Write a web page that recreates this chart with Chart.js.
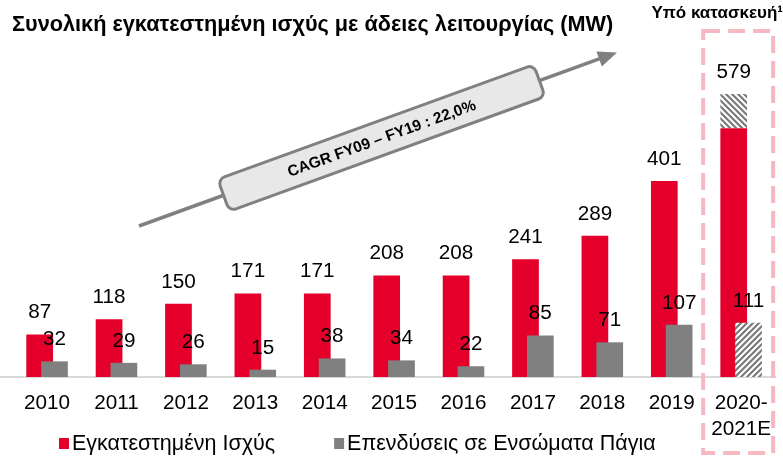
<!DOCTYPE html>
<html><head><meta charset="utf-8">
<script src="https://cdn.jsdelivr.net/npm/chart.js@4/dist/chart.umd.min.js"></script>
<style>
html,body{margin:0;padding:0;background:#fff;overflow:hidden;width:783px;height:456px;}
#wrap{position:absolute;left:-58px;top:0;width:842px;height:456px;}
</style></head><body>
<div id="wrap"><canvas id="c" width="842" height="456"></canvas></div>
<script>
// ---- data ----
const categories = ['2009','2010','2011','2012','2013','2014','2015','2016','2017','2018','2019',['2020-','2021E']];
const installedMW = [55, 87, 118, 150, 171, 171, 208, 208, 241, 289, 401, 509];
const underConstructionMW = [null, null, null, null, null, null, null, null, null, null, null, 70];
const capex = [null, 32, 29, 26, 15, 38, 34, 22, 85, 71, 107, null];
const capexPlanned = [null, null, null, null, null, null, null, null, null, null, null, 111];
const seriesNames = ['Εγκατεστημένη Ισχύς', 'Επενδύσεις σε Ενσώματα Πάγια'];
const titleText = 'Συνολική εγκατεστημένη ισχύς με άδειες λειτουργίας (MW)';
const constructionText = 'Υπό κατασκευή¹';
const cagrText = 'CAGR FY09 – FY19 : 22,0%';

// ---- styling ----
const FONT = '"Liberation Sans", Arial, Helvetica, sans-serif';
const RED = '#e4002b', GRAY = '#808080', OX = 58;
const canvas = document.getElementById('c');
const ctx = canvas.getContext('2d');

function hatch(up) {
  const c = document.createElement('canvas'); c.width = c.height = 6;
  const g = c.getContext('2d');
  g.fillStyle = '#fff'; g.fillRect(0, 0, 6, 6);
  g.strokeStyle = '#7a7a7a'; g.lineWidth = 2.2; g.beginPath();
  if (up) { g.moveTo(-1,7); g.lineTo(7,-1); g.moveTo(-1,1); g.lineTo(1,-1); g.moveTo(5,7); g.lineTo(7,5); }
  else { g.moveTo(-1,-1); g.lineTo(7,7); g.moveTo(-1,5); g.lineTo(1,7); g.moveTo(5,-1); g.lineTo(7,1); }
  g.stroke();
  return ctx.createPattern(c, 'repeat');
}
const hatchDown = hatch(false), hatchUp = hatch(true);

const deco = {
  id: 'deco',
  beforeDatasetDraw(chart, args) { if (args.index >= 2) return false; },
  afterDatasetsDraw(chart) {
    const c = chart.ctx;
    [2, 3].forEach(i => chart.getDatasetMeta(i).controller.draw());
    // value labels
    c.save();
    c.font = '20.7px ' + FONT; c.fillStyle = '#000'; c.textAlign = 'center'; c.textBaseline = 'alphabetic';
    const m0 = chart.getDatasetMeta(0).data, m1 = chart.getDatasetMeta(1).data,
          m2 = chart.getDatasetMeta(2).data, m3 = chart.getDatasetMeta(3).data;
    for (let i = 0; i < categories.length; i++) {
      if (installedMW[i] != null) {
        const hasTop = underConstructionMW[i] != null;
        const el = hasTop ? m1[i] : m0[i];
        const total = installedMW[i] + (hasTop ? underConstructionMW[i] : 0);
        c.fillText(String(total), el.x, el.y - 16);
      }
      const gv = capex[i] != null ? capex[i] : capexPlanned[i];
      if (gv != null) {
        const el = capex[i] != null ? m2[i] : m3[i];
        c.fillText(String(gv), el.x, el.y - 16);
      }
    }
    c.restore();
  },
  afterDraw(chart) {
    const c = chart.ctx;
    const xs = chart.scales.x;
    c.save();
    // title
    c.font = 'bold 21.7px ' + FONT; c.fillStyle = '#000'; c.textAlign = 'left'; c.textBaseline = 'alphabetic';
    c.fillText(titleText, OX + 12, 31);
    // under construction caption
    c.font = 'bold 17px ' + FONT; c.textAlign = 'right';
    c.fillText(constructionText, OX + 783, 18);
    // dashed frame around last category
    const cx = xs.getPixelForValue(categories.length - 1);
    c.strokeStyle = '#f6b8c1'; c.lineWidth = 4; c.setLineDash([17, 8]);
    c.strokeRect(cx - 38, 31, 70, 422);
    c.setLineDash([]);
    // CAGR arrow
    const x0 = OX + 139, y0 = 226, x1 = OX + 617, y1 = 52.5;
    const ang = Math.atan2(y1 - y0, x1 - x0);
    const L = Math.hypot(x1 - x0, y1 - y0);
    c.translate(x0, y0); c.rotate(ang);
    c.strokeStyle = '#808080'; c.fillStyle = '#808080'; c.lineWidth = 3.5;
    c.beginPath(); c.moveTo(0, 0); c.lineTo(L - 16, 0); c.stroke();
    c.beginPath(); c.moveTo(L, 0); c.lineTo(L - 19, -8); c.lineTo(L - 19, 8); c.closePath(); c.fill();
    // box
    const bc = 258, bw = 336, bh = 34, r = 7;
    c.beginPath();
    c.roundRect(bc - bw / 2, -bh / 2, bw, bh, r);
    c.fillStyle = '#e8e8e8'; c.fill();
    c.lineWidth = 3; c.strokeStyle = '#808080'; c.stroke();
    c.font = 'bold 15.5px ' + FONT; c.fillStyle = '#000'; c.textAlign = 'center'; c.textBaseline = 'middle';
    c.fillText(cagrText, bc, 1);
    c.setTransform(1, 0, 0, 1, 0, 0);
    // legend
    c.font = '21.5px ' + FONT; c.textAlign = 'left'; c.textBaseline = 'middle';
    let lx = OX + 59;
    [0, 2].forEach(di => {
      const ds = chart.data.datasets[di];
      c.fillStyle = ds.backgroundColor; c.fillRect(lx, 438, 10, 11);
      c.fillStyle = '#000'; c.fillText(ds.label, lx + 13, 444);
      lx += 13 + c.measureText(ds.label).width + 59;
    });
    c.restore();
  }
};

new Chart(ctx, {
  type: 'bar',
  data: {
    labels: categories,
    datasets: [
      { label: seriesNames[0], data: installedMW, backgroundColor: RED, stack: 'a' },
      { label: constructionText, data: underConstructionMW, backgroundColor: hatchDown, stack: 'a' },
      { label: seriesNames[1], data: capex, backgroundColor: GRAY, stack: 'b' },
      { label: seriesNames[1] + ' (E)', data: capexPlanned, backgroundColor: hatchUp, stack: 'b' }
    ]
  },
  options: {
    responsive: false, animation: false,
    datasets: { bar: { categoryPercentage: 0.4275, barPercentage: 1.8, borderWidth: 0 } },
    layout: { padding: { top: 35, left: 0, right: 0, bottom: 0 } },
    plugins: { legend: { display: false }, tooltip: { enabled: false }, title: { display: false } },
    scales: {
      x: {
        stacked: true,
        grid: { display: false, drawTicks: false },
        border: { display: true, color: '#d9d9d9', width: 2 },
        ticks: { autoSkip: false, maxRotation: 0, minRotation: 0, padding: 13, color: '#000',
                 font: { family: FONT, size: 20.7, lineHeight: 1.25 } },
        afterFit(s) { s.height = 79; }
      },
      y: { stacked: true, display: false, min: 0, max: 700 }
    }
  },
  plugins: [deco]
});
</script>
</body></html>
